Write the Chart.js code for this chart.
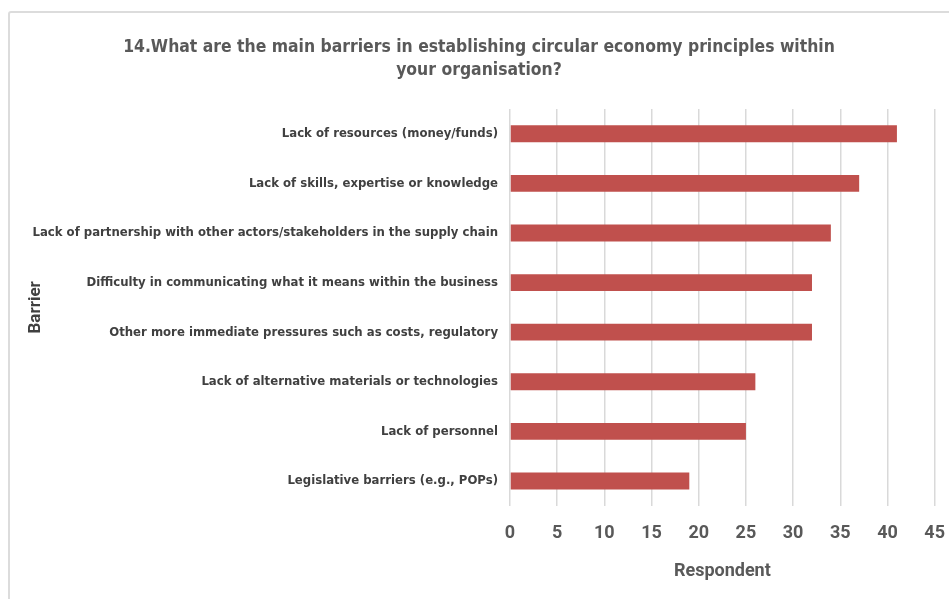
<!DOCTYPE html>
<html>
<head>
<meta charset="utf-8">
<script src="https://cdn.jsdelivr.net/npm/chart.js@4.4.1/dist/chart.umd.min.js"></script>
<style>
  html, body { margin: 0; padding: 0; background: #fff; }
  #wrap { position: relative; width: 949px; height: 599px; overflow: hidden; }
  #card { position: absolute; left: 8px; top: 11px; width: 960px; height: 620px;
          border: 2px solid #dcdcdc; border-radius: 3px; box-sizing: border-box; }
  #chart { position: absolute; left: 0; top: 0; }
</style>
</head>
<body>
<div id="wrap">
  <div id="card"></div>
  <canvas id="chart" width="949" height="599"></canvas>
</div>
<script>
const barriers = [
    'Lack of resources (money/funds)',
    'Lack of skills, expertise or knowledge',
    'Lack of partnership with other actors/stakeholders in the supply chain',
    'Difficulty in communicating what it means within the business',
    'Other more immediate pressures such as costs, regulatory',
    'Lack of alternative materials or technologies',
    'Lack of personnel',
    'Legislative barriers (e.g., POPs)'
];
const respondents = [41, 37, 34, 32, 32, 26, 25, 19];
const titleLines = [
    '14.What are the main barriers in establishing circular economy principles within',
    'your organisation?'
];

const narrow = "'Liberation Sans Narrow', 'DejaVu Sans Condensed', 'Arial Narrow', sans-serif";
const ctx = document.getElementById('chart').getContext('2d');

new Chart(ctx, {
    type: 'bar',
    data: {
        labels: barriers,
        datasets: [{
            label: 'Respondent',
            data: respondents,
            backgroundColor: '#c0504d',
            barPercentage: 0.34,
            categoryPercentage: 1
        }]
    },
    options: {
        indexAxis: 'y',
        responsive: false,
        animation: false,
        layout: {
            padding: { left: 10, right: 1, top: 0, bottom: 13 }
        },
        plugins: {
            legend: { display: false },
            tooltip: { enabled: false },
            title: {
                display: true,
                text: titleLines,
                color: '#595959',
                font: { family: narrow, size: 17.4, weight: 'bold', lineHeight: 1.32 },
                padding: { top: 36, bottom: 27 }
            }
        },
        scales: {
            x: {
                min: 0,
                max: 45,
                ticks: {
                    stepSize: 5,
                    color: '#595959',
                    padding: 4,
                    font: { family: 'Roboto', size: 18, weight: 'bold' }
                },
                grid: { color: '#d9d9d9', lineWidth: 1.5, drawTicks: true, tickLength: 13, tickColor: 'rgba(0,0,0,0)' },
                border: { display: false },
                title: {
                    display: true,
                    text: 'Respondent',
                    color: '#595959',
                    font: { family: 'Roboto', size: 18, weight: 'bold' },
                    padding: { top: 12, bottom: 4 }
                }
            },
            y: {
                afterFit: function (axis) { axis.width = 500; },
                ticks: {
                    color: '#404040',
                    padding: 4,
                    font: { family: narrow, size: 13, weight: 'bold' }
                },
                grid: { display: false },
                border: { display: false },
                title: {
                    display: true,
                    text: 'Barrier',
                    color: '#404040',
                    font: { family: 'Roboto', size: 17, weight: 'bold' },
                    padding: { top: 16, bottom: 0 }
                }
            }
        }
    }
});
</script>
</body>
</html>
